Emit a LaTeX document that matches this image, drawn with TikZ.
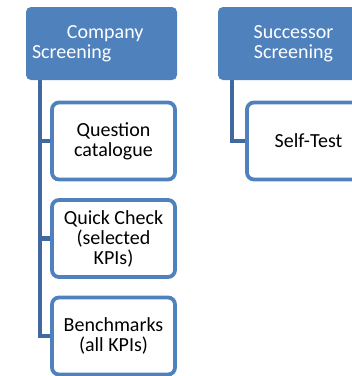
\documentclass[tikz,border=0pt]{standalone}
\usepackage{fontspec}
\setmainfont{Carlito}
\usetikzlibrary{positioning}
\usetikzlibrary{backgrounds}

\definecolor{boxblue}{HTML}{4F81BD}
\definecolor{linkblue}{HTML}{41699F}

\begin{document}
\begin{tikzpicture}[x=1pt,y=-1pt,node distance=97.5pt,on grid,
    head/.style={rectangle,rounded corners=5pt,fill=boxblue,text=white,
      minimum width=151pt,minimum height=73pt,inner sep=6pt,
      font=\fontsize{20}{20}\selectfont},
    leaf/.style={rectangle,rounded corners=7pt,draw=boxblue,line width=3.75pt,
      fill=white,minimum width=123pt,minimum height=77pt,align=center,
      font=\fontsize{20}{20}\selectfont},
    link/.style={draw=linkblue,line width=4.5pt}]
   \useasboundingbox (0,0) rectangle (352,376);
   \clip (0,0) rectangle (352,376);
   \node[head,text width=139pt,align=left] (comp) at (101.5,43.5)
     {\hspace*{35pt}Company\\Screening};
   \node[head,text width=139pt,align=center] (succ) [right=192pt of comp]
     {Successor\\Screening};
   \node[leaf] (q_cat)   at (113.5,141) {Question\\catalogue};
   \node[leaf] (q_check) [below=of q_cat] {Quick Check\\(selected\\KPIs)};
   \node[leaf] (bench)   [below=of q_check] {Benchmarks\\(all KPIs)};
   \node[leaf] (self)    [right=195pt of q_cat] {Self-Test};
   \begin{scope}[on background layer]
   \path[link]
    ([xshift=14pt]comp.south west) |- (q_cat.west)
    ([xshift=14pt]comp.south west) |- (q_check.west)
    ([xshift=14pt]comp.south west) |- (bench.west)
    ([xshift=14pt]succ.south west) |- (self.west);
   \end{scope}
\end{tikzpicture}
\end{document}
